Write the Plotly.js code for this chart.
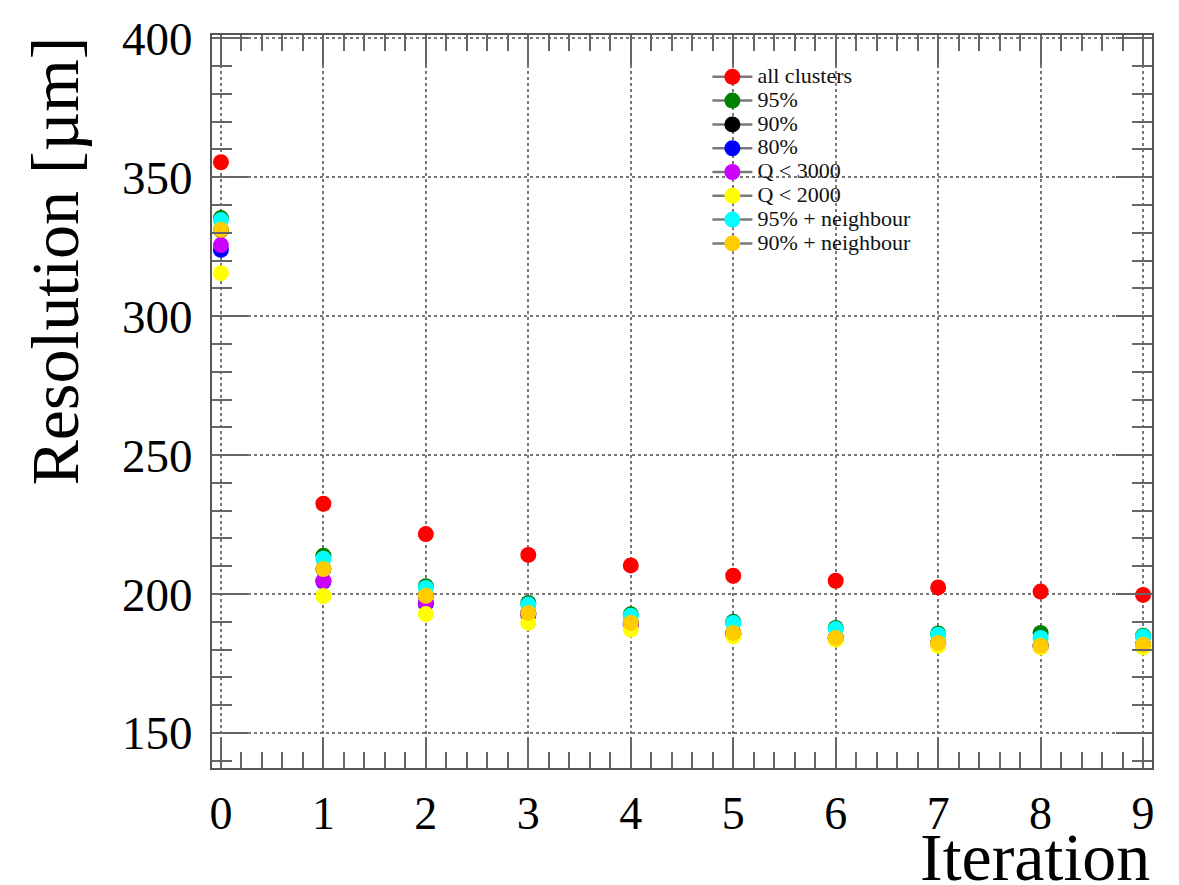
<!DOCTYPE html>
<html>
<head>
<meta charset="utf-8">
<script src="https://cdn.plot.ly/plotly-3.0.1.min.js"></script>
<style>html,body{margin:0;padding:0;background:#fff;}#chart{width:1179px;height:885px;}</style>
</head>
<body>
<div id="chart"></div>
<script>
// Data
const iterations = [0, 1, 2, 3, 4, 5, 6, 7, 8, 9];
const seriesNames = ["all clusters", "95%", "90%", "80%", "Q < 3000", "Q < 2000", "95% + neighbour", "90% + neighbour"];
const allClusters   = [355.4, 232.5, 221.6, 214.1, 210.3, 206.6, 204.8, 202.4, 200.9, 199.7];
const pct95         = [335.3, 213.8, 202.8, 196.8, 192.7, 190.0, 187.8, 185.8, 186.0, 185.0];
const pct90         = [331.0, 209.0, 199.4, 193.2, 189.6, 186.0, 184.2, 182.4, 181.4, 181.8];
const pct80         = [323.9, 204.5, 196.5, 192.5, 188.8, 185.5, 184.0, 182.0, 181.0, 181.2];
const qLess3000     = [325.6, 204.8, 197.0, 193.0, 189.0, 185.8, 184.2, 182.2, 181.2, 181.5];
const qLess2000     = [315.5, 199.3, 192.8, 189.6, 187.2, 184.8, 183.6, 181.4, 180.8, 180.8];
const pct95Neigh    = [334.6, 212.7, 202.2, 196.2, 192.2, 189.6, 187.4, 185.4, 184.2, 184.7];
const pct90Neigh    = [331.1, 209.0, 199.4, 193.2, 189.6, 186.0, 184.2, 182.4, 181.4, 181.8];
const xTickLabels = ["0","1","2","3","4","5","6","7","8","9"];

const seriesValues = [allClusters, pct95, pct90, pct80, qLess3000, qLess2000, pct95Neigh, pct90Neigh];
const seriesColors = ["#ff0000", "#008000", "#000000", "#0000ff", "#cc00ff", "#ffff00", "#00ffff", "#ffcc00"];

// Interleave nulls so the (gray) line only shows in the legend, not between points
function gapped(arr) {
  const out = [];
  arr.forEach((v, i) => { out.push(v); if (i < arr.length - 1) out.push(null); });
  return out;
}

const traces = seriesValues.map((vals, i) => ({
  type: "scatter",
  mode: "lines+markers",
  name: '<span style="font-size:22px">' + seriesNames[i].replace("<", "&lt;") + '</span>',
  x: gapped(iterations),
  y: gapped(vals),
  connectgaps: false,
  line: {color: "#7a7a7a", width: 2.5},
  marker: {color: seriesColors[i], size: 16, line: {width: 0}},
  hoverinfo: "x+y"
}));

const serif = "Liberation Serif, Times New Roman, serif";

const layout = {
  width: 1179,
  height: 885,
  paper_bgcolor: "#ffffff",
  plot_bgcolor: "#ffffff",
  margin: {l: 212, r: 27, t: 35, b: 117},
  showlegend: true,
  legend: {
    x: 0.527, y: 0.966, xanchor: "left", yanchor: "top",
    font: {family: serif, size: 16, color: "#111"},
    bgcolor: "rgba(255,255,255,0)",
    borderwidth: 0,
    tracegroupgap: 0,
    itemwidth: 40
  },
  xaxis: {
    range: [-0.087, 9.087],
    tickmode: "array",
    tickvals: iterations,
    ticktext: xTickLabels,
    ticks: "inside",
    ticklen: 30,
    tickwidth: 2,
    tickcolor: "#666",
    showline: true,
    linecolor: "#555",
    linewidth: 2,
    mirror: "allticks",
    showgrid: true,
    gridcolor: "#777",
    griddash: "dot",
    gridwidth: 1.5,
    zeroline: false,
    tickfont: {family: serif, size: 46, color: "#000"},
    ticklabelstandoff: 4,
    minor: {dtick: 0.2, tick0: 0, ticks: "inside", ticklen: 16, tickwidth: 2, tickcolor: "#666", showgrid: false}
  },
  yaxis: {
    range: [137.4, 401.2],
    tick0: 150,
    dtick: 50,
    ticks: "inside",
    ticklen: 36,
    tickwidth: 2,
    tickcolor: "#666",
    showline: true,
    linecolor: "#555",
    linewidth: 2,
    mirror: "allticks",
    showgrid: true,
    gridcolor: "#777",
    griddash: "dot",
    gridwidth: 1.5,
    zeroline: false,
    tickfont: {family: serif, size: 47, color: "#000"},
    ticklabelstandoff: 8,
    minor: {dtick: 10, tick0: 150, ticks: "inside", ticklen: 20, tickwidth: 2, tickcolor: "#666", showgrid: false}
  },
  annotations: [
    {
      text: "Iteration",
      xref: "paper", yref: "paper",
      x: 1.0, y: -0.067,
      xanchor: "right", yanchor: "top",
      showarrow: false,
      font: {family: serif, size: 68, color: "#000"}
    },
    {
      text: "Resolution [µm]",
      xref: "paper", yref: "paper",
      x: -0.168, y: 1.0,
      xanchor: "center", yanchor: "top",
      textangle: -90,
      showarrow: false,
      font: {family: serif, size: 68, color: "#000"}
    }
  ]
};

Plotly.newPlot("chart", traces, layout, {displayModeBar: false, responsive: false});
</script>
</body>
</html>
